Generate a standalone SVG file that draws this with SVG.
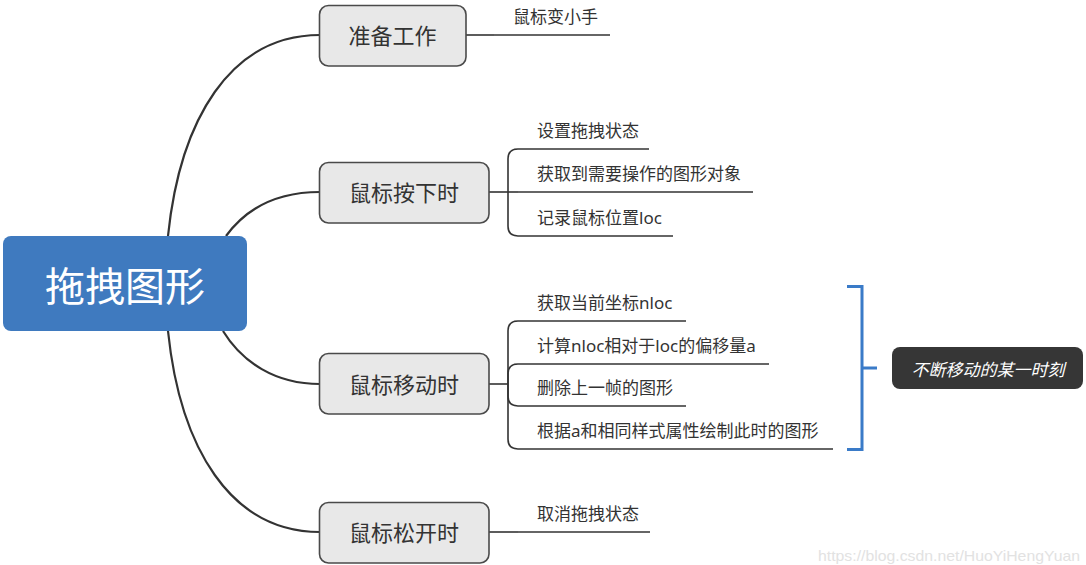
<svg xmlns="http://www.w3.org/2000/svg" width="1086" height="565" viewBox="0 0 1086 565">
<style>
.t{font-family:"Noto Sans","Noto Sans CJK SC",sans-serif;fill:#333}
.sub{font-size:17px}
.br{font-size:22px;text-anchor:middle;dominant-baseline:central}
.box{fill:#e8e8e8;stroke:#4a4a4a;stroke-width:1.6}
.main{fill:none;stroke:#333;stroke-width:2.2}
.c{fill:none;stroke:#333;stroke-width:1.6}
.ul{stroke:#333;stroke-width:1.6}
</style>
<rect width="1086" height="565" fill="#fff"/>
<g id="connectors">
<path class="main" d="M168,236 C180,120 230,35 320,35"/>
<path class="main" d="M226,236 C245,210 275,192 320,192"/>
<path class="main" d="M223,331 C242,362 275,384 320,384"/>
<path class="main" d="M168,331 C180,447 230,532 320,532"/>
<path class="c" d="M466,35 H494"/>
<path class="c" d="M489,192 H518"/>
<path class="c" d="M508,192 V159 Q508,149 518,149"/>
<path class="c" d="M508,192 V226 Q508,236 518,236"/>
<path class="c" d="M489,384 H508"/>
<path class="c" d="M508,384 V331 Q508,321 518,321"/>
<path class="c" d="M508,384 V374 Q508,364 518,364"/>
<path class="c" d="M508,384 V396 Q508,406 518,406"/>
<path class="c" d="M508,384 V439 Q508,449 518,449"/>
<path class="c" d="M489,532 H518"/>
</g>
<g id="root">
<rect x="3" y="236" width="244" height="95" rx="8" fill="#3f7abf"/>
<text x="125" y="284" font-family="Noto Sans CJK SC, sans-serif" font-size="40" fill="#fff" text-anchor="middle" dominant-baseline="central">拖拽图形</text>
</g>
<g id="n-prepare">
<rect class="box" x="319.5" y="5.5" width="146.5" height="60.5" rx="9"/>
<text class="t br" x="392.5" y="35">准备工作</text>
</g>
<g id="n-down">
<rect class="box" x="319.5" y="162.5" width="169.5" height="60.5" rx="9"/>
<text class="t br" x="404" y="192">鼠标按下时</text>
</g>
<g id="n-move">
<rect class="box" x="319.5" y="353.5" width="169.5" height="60.5" rx="9"/>
<text class="t br" x="404" y="384">鼠标移动时</text>
</g>
<g id="n-up">
<rect class="box" x="319.5" y="502.5" width="169.5" height="60.5" rx="9"/>
<text class="t br" x="404" y="532">鼠标松开时</text>
</g>
<g id="s-hand"><line class="ul" x1="494" y1="35" x2="610" y2="35"/><text class="t sub" x="513" y="23">鼠标变小手</text></g>
<g id="s-d1"><line class="ul" x1="518" y1="149" x2="649" y2="149"/><text class="t sub" x="537" y="137">设置拖拽状态</text></g>
<g id="s-d2"><line class="ul" x1="518" y1="192" x2="753" y2="192"/><text class="t sub" x="537" y="180">获取到需要操作的图形对象</text></g>
<g id="s-d3"><line class="ul" x1="518" y1="236" x2="673" y2="236"/><text class="t sub" x="537" y="224">记录鼠标位置loc</text></g>
<g id="s-m1"><line class="ul" x1="518" y1="321" x2="686" y2="321"/><text class="t sub" x="537" y="309">获取当前坐标nloc</text></g>
<g id="s-m2"><line class="ul" x1="518" y1="364" x2="769" y2="364"/><text class="t sub" x="537" y="352">计算nloc相对于loc的偏移量a</text></g>
<g id="s-m3"><line class="ul" x1="518" y1="406" x2="686" y2="406"/><text class="t sub" x="537" y="394">删除上一帧的图形</text></g>
<g id="s-m4"><line class="ul" x1="518" y1="449" x2="833" y2="449"/><text class="t sub" x="537" y="437">根据a和相同样式属性绘制此时的图形</text></g>
<g id="s-u1"><line class="ul" x1="518" y1="532" x2="650" y2="532"/><text class="t sub" x="537" y="520">取消拖拽状态</text></g>
<g id="summary-bracket">
<path d="M847,286.5 H862 V449.5 H847 M862,368 H877" fill="none" stroke="#3a7bc8" stroke-width="3"/>
</g>
<g id="summary">
<rect x="892" y="347" width="191" height="42" rx="8" fill="#363636"/>
<text x="988" y="368" font-family="Noto Sans CJK SC, sans-serif" font-size="17" font-style="italic" fill="#fff" text-anchor="middle" dominant-baseline="central">不断移动的某一时刻</text>
</g>
<text x="818" y="561" font-family="Liberation Sans, Arial, sans-serif" font-size="15" fill="#e2e2e2" textLength="262" lengthAdjust="spacingAndGlyphs">https://blog.csdn.net/HuoYiHengYuan</text>
</svg>
